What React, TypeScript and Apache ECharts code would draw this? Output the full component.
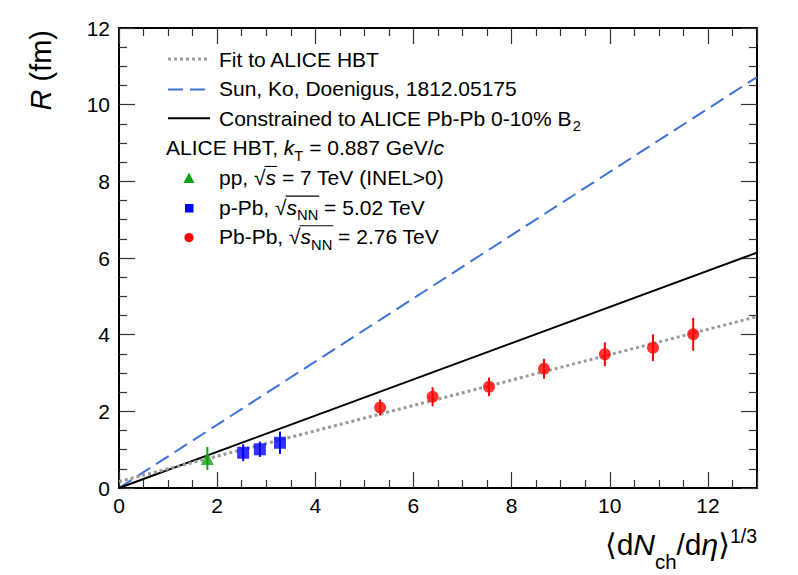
import React, { useEffect, useRef } from "react";
import * as echarts from "echarts";

const FONT = '"Liberation Sans", Arial, Helvetica, "DejaVu Sans", sans-serif';

// ---------- data ----------
const fitX = [0, 13];
const fitY = [0.17, 4.47];
const sunX = [0, 13];
const sunY = [0, 10.72];
const conX = [0, 13];
const conY = [0, 6.14];

const ppX = [1.8];
const ppY = [0.77];
const ppErr = [0.3];

const pPbX = [2.53, 2.87, 3.28];
const pPbY = [0.92, 1.01, 1.18];
const pPbErr = [0.22, 0.2, 0.29];

const PbPbX = [5.32, 6.39, 7.54, 8.66, 9.9, 10.88, 11.7];
const PbPbY = [2.1, 2.38, 2.64, 3.11, 3.49, 3.66, 4.01];
const PbPbErr = [0.21, 0.25, 0.24, 0.26, 0.31, 0.35, 0.43];

const xMin = 0;
const xMax = 13;
const xStep = 2;
const yMin = 0;
const yMax = 12;
const yStep = 2;

const C_FIT = "#9a9a9a";
const C_SUN = "#3f72d9";
const C_CON = "#000000";
const C_PP = "#10a010";
const C_PPB = "#0000ff";
const C_PBPB = "#ff0000";

type Seg = { t: string; s?: number; i?: boolean; dy?: number; over?: boolean };

let ctx: CanvasRenderingContext2D | null = null;
function measure(text: string, size: number, italic: boolean): number {
  if (!ctx) ctx = document.createElement("canvas").getContext("2d");
  if (!ctx) return text.length * size * 0.55;
  ctx.font = `${italic ? "italic " : ""}${size}px ${FONT}`;
  return ctx.measureText(text).width;
}

function richRow(
  segs: Seg[],
  x: number,
  y: number,
  size: number,
  align: "left" | "right" = "left",
  color = "#000"
): any[] {
  const widths = segs.map((g) => measure(g.t, size * (g.s ?? 1), !!g.i));
  const total = widths.reduce((a, b) => a + b, 0);
  let cx = align === "right" ? x - total : x;
  const out: any[] = [];
  let ovStart: number | null = null;
  let ovEnd = 0;
  segs.forEach((g, k) => {
    const fs = size * (g.s ?? 1);
    const lead = (g.t.match(/^\s*/) as RegExpMatchArray)[0];
    const body = g.t.trim();
    const off = lead.length ? measure(lead, fs, !!g.i) : 0;
    if (body.length) {
      out.push({
        type: "text",
        x: cx + off,
        y: y + (g.dy ?? 0) * size,
        silent: true,
        style: {
          text: body,
          fontSize: fs,
          fontFamily: FONT,
          fontStyle: g.i ? "italic" : "normal",
          fill: color,
          align: "left",
          verticalAlign: "middle",
        },
      });
    }
    if (g.over) {
      if (ovStart === null) ovStart = cx;
      ovEnd = cx + widths[k];
    }
    cx += widths[k];
  });
  if (ovStart !== null) {
    out.push({
      type: "line",
      silent: true,
      shape: { x1: ovStart - 1, y1: y - 0.52 * size, x2: ovEnd + 1, y2: y - 0.52 * size },
      style: { stroke: color, lineWidth: 1.1 },
    });
  }
  return out;
}

function pairs(xs: number[], ys: number[]) {
  return xs.map((x, i) => [x, ys[i]]);
}
function triples(xs: number[], ys: number[], es: number[]) {
  return xs.map((x, i) => [x, ys[i], es[i]]);
}

function errSeries(data: number[][], color: string) {
  return {
    type: "custom",
    data,
    encode: { x: 0, y: 1 },
    z: 3,
    renderItem: (_p: any, api: any) => {
      const x = api.value(0);
      const y = api.value(1);
      const e = api.value(2);
      const a = api.coord([x, y - e]);
      const b = api.coord([x, y + e]);
      return {
        type: "line",
        shape: { x1: a[0], y1: a[1], x2: b[0], y2: b[1] },
        style: { stroke: color, lineWidth: 2 },
      };
    },
  };
}

function axisCommon(showLabel: boolean) {
  return {
    axisLine: { show: true, onZero: false, lineStyle: { color: "#000", width: 2 } },
    axisTick: { show: true, inside: true, length: 16, lineStyle: { color: "#333", width: 1.2 } },
    minorTick: { show: true, splitNumber: 4, length: 8, lineStyle: { color: "#333", width: 1.2 } },
    splitLine: { show: false },
    minorSplitLine: { show: false },
    axisLabel: {
      show: showLabel,
      color: "#000",
      fontSize: 21,
      fontFamily: FONT,
      formatter: (v: number) => (v % 2 === 0 ? String(v) : ""),
    },
  };
}

export default function App() {
  const ref = useRef<HTMLDivElement>(null);
  useEffect(() => {
    document.body.style.margin = "0";
    if (!ref.current) return;
    const chart = echarts.init(ref.current, undefined, { renderer: "svg" });

    const legendX = 219;
    const rowY = (i: number) => 59 + i * 29.6;
    const LS = 21;

    const graphics: any[] = [];
    // legend line samples
    graphics.push({
      type: "line",
      shape: { x1: 168, y1: rowY(0), x2: 210, y2: rowY(0) },
      style: { stroke: C_FIT, lineWidth: 3, lineDash: [3, 3] },
    });
    graphics.push({
      type: "line",
      shape: { x1: 168, y1: rowY(1) + 1, x2: 210, y2: rowY(1) + 1 },
      style: { stroke: C_SUN, lineWidth: 2, lineDash: [15, 7] },
    });
    graphics.push({
      type: "line",
      shape: { x1: 168, y1: rowY(2), x2: 210, y2: rowY(2) },
      style: { stroke: C_CON, lineWidth: 2 },
    });
    // legend markers
    const my4 = rowY(4) + 1;
    graphics.push({
      type: "polygon",
      shape: { points: [[189, my4 - 6], [194.5, my4 + 4.5], [183.5, my4 + 4.5]] },
      style: { fill: C_PP },
    });
    const my5 = rowY(5) + 1;
    graphics.push({ type: "rect", shape: { x: 185, y: my5 - 4, width: 8.5, height: 8.5 }, style: { fill: C_PPB } });
    const my6 = rowY(6) + 1;
    graphics.push({ type: "circle", shape: { cx: 189, cy: my6, r: 4.6 }, style: { fill: C_PBPB } });

    graphics.push(...richRow([{ t: "Fit to ALICE HBT" }], legendX, rowY(0), LS));
    graphics.push(...richRow([{ t: "Sun, Ko, Doenigus, 1812.05175" }], legendX, rowY(1), LS));
    graphics.push(
      ...richRow([{ t: "Constrained to ALICE Pb-Pb 0-10% B" }, { t: "2", s: 0.7, dy: 0.38 }], legendX, rowY(2), LS)
    );
    graphics.push(
      ...richRow(
        [
          { t: "ALICE HBT, " },
          { t: "k", i: true },
          { t: "T", s: 0.7, dy: 0.38 },
          { t: " = 0.887 GeV/" },
          { t: "c", i: true },
        ],
        166,
        rowY(3),
        LS
      )
    );
    graphics.push(
      ...richRow(
        [{ t: "pp, " }, { t: "√" }, { t: "s", i: true, over: true }, { t: " = 7 TeV (INEL>0)" }],
        legendX,
        rowY(4),
        LS
      )
    );
    graphics.push(
      ...richRow(
        [
          { t: "p-Pb, " },
          { t: "√" },
          { t: "s", i: true, over: true },
          { t: "NN", s: 0.7, dy: 0.38, over: true },
          { t: " = 5.02 TeV" },
        ],
        legendX,
        rowY(5),
        LS
      )
    );
    graphics.push(
      ...richRow(
        [
          { t: "Pb-Pb, " },
          { t: "√" },
          { t: "s", i: true, over: true },
          { t: "NN", s: 0.7, dy: 0.38, over: true },
          { t: " = 2.76 TeV" },
        ],
        legendX,
        rowY(6),
        LS
      )
    );

    // x-axis title
    graphics.push(
      ...richRow(
        [
          { t: "⟨d" },
          { t: "N", i: true },
          { t: "ch", s: 0.68, dy: 0.6 },
          { t: "/d" },
          { t: "η", i: true },
          { t: "⟩" },
          { t: "1/3", s: 0.65, dy: -0.27 },
        ],
        757,
        544,
        30,
        "right"
      )
    );
    // y-axis title (rotated)
    graphics.push({
      type: "group",
      x: 41,
      y: 30,
      rotation: Math.PI / 2,
      children: richRow([{ t: "R", i: true }, { t: " (fm)" }], 0, 0, 29, "right"),
    });

    const option: any = {
      animation: false,
      backgroundColor: "#ffffff",
      grid: { left: 119, right: 41, top: 28, bottom: 87, containLabel: false },
      xAxis: [
        {
          type: "value",
          min: xMin,
          max: xMax,
          interval: xStep,
          position: "bottom",
          ...axisCommon(true),
          axisLabel: { ...axisCommon(true).axisLabel, margin: 7, showMaxLabel: false },
        },
        {
          type: "value",
          min: xMin,
          max: xMax,
          interval: xStep,
          position: "top",
          ...axisCommon(false),
        },
      ],
      yAxis: [
        {
          type: "value",
          min: yMin,
          max: yMax,
          interval: yStep,
          position: "left",
          ...axisCommon(true),
          axisLabel: { ...axisCommon(true).axisLabel, margin: 9 },
        },
        {
          type: "value",
          min: yMin,
          max: yMax,
          interval: yStep,
          position: "right",
          ...axisCommon(false),
        },
      ],
      series: [
        {
          type: "line",
          name: "Sun, Ko, Doenigus, 1812.05175",
          data: pairs(sunX, sunY),
          showSymbol: false,
          z: 2,
          lineStyle: { color: C_SUN, width: 2, type: [15, 7] },
        },
        {
          type: "line",
          name: "Constrained to ALICE Pb-Pb 0-10% B2",
          data: pairs(conX, conY),
          showSymbol: false,
          z: 2,
          lineStyle: { color: C_CON, width: 2 },
        },
        {
          type: "line",
          name: "Fit to ALICE HBT",
          data: pairs(fitX, fitY),
          showSymbol: false,
          z: 2,
          lineStyle: { color: C_FIT, width: 3, type: [3, 3] },
        },
        errSeries(triples(ppX, ppY, ppErr), C_PP),
        errSeries(triples(pPbX, pPbY, pPbErr), C_PPB),
        errSeries(triples(PbPbX, PbPbY, PbPbErr), C_PBPB),
        {
          type: "scatter",
          name: "pp",
          data: pairs(ppX, ppY),
          symbol: "triangle",
          symbolSize: 13,
          z: 4,
          itemStyle: { color: C_PP },
        },
        {
          type: "scatter",
          name: "p-Pb",
          data: pairs(pPbX, pPbY),
          symbol: "rect",
          symbolSize: 12,
          z: 4,
          itemStyle: { color: C_PPB },
        },
        {
          type: "scatter",
          name: "Pb-Pb",
          data: pairs(PbPbX, PbPbY),
          symbol: "circle",
          symbolSize: 12,
          z: 4,
          itemStyle: { color: C_PBPB },
        },
      ],
      graphic: { elements: graphics },
    };
    chart.setOption(option);
    return () => chart.dispose();
  }, []);
  return <div ref={ref} style={{ width: 798, height: 575 }} />;
}
